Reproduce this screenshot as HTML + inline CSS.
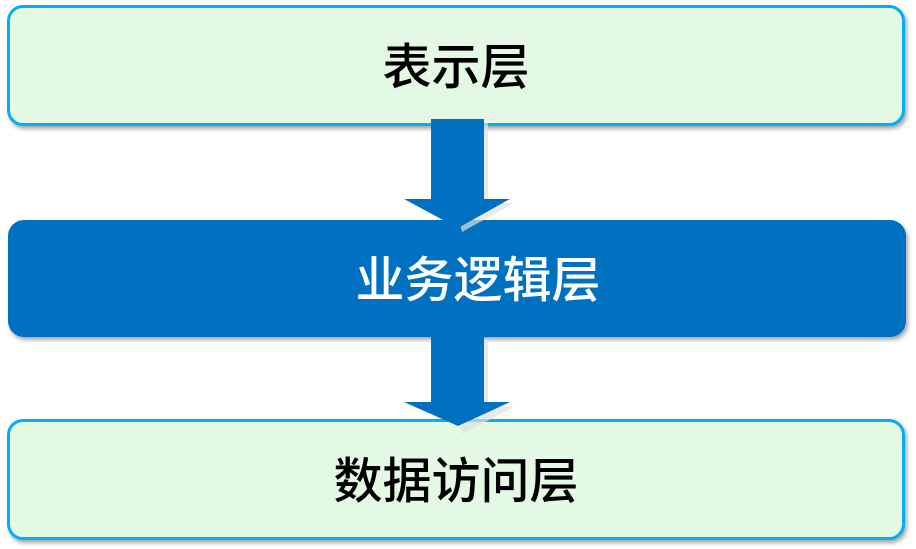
<!DOCTYPE html>
<html><head><meta charset="utf-8"><style>
html,body{margin:0;padding:0;background:#fff;width:916px;height:549px;overflow:hidden}
.box{position:absolute;left:7px;width:898px;border-radius:16px;display:flex;align-items:center;justify-content:center;font-family:"Liberation Sans","Noto Sans CJK SC",sans-serif;font-size:49px;font-weight:500;box-shadow:2px 3px 4px rgba(0,0,0,0.35);box-sizing:border-box}
.g{background:#e3f9e3;border:3px solid #00b0f0;color:#000}
.b{background:#0070c0;color:#fff}
</style></head><body>
<div class="box g" style="top:5px;height:121px;padding-bottom:4px">表示层</div>
<div class="box b" style="top:220px;height:117px;left:8px;width:898px;padding-left:42px;padding-bottom:4px">业务逻辑层</div>
<div class="box g" style="top:419px;height:121px;padding-bottom:4px">数据访问层</div>
<svg width="916" height="549" style="position:absolute;left:0;top:0">
<polygon points="435,123 488,123 488,203 514,203 462,232" fill="#e0e0e0" opacity="0.7"/>
<polygon points="431,119 484,119 484,199 510,199 458,228 404,199 431,199" fill="#0070c0"/>
<polygon points="435,339 488,339 488,407 514,407 462,434" fill="#e0e0e0" opacity="0.7"/>
<polygon points="431,335 484,335 484,402 510,402 458,426 404,402 431,402" fill="#0070c0"/>
</svg>
</body></html>
